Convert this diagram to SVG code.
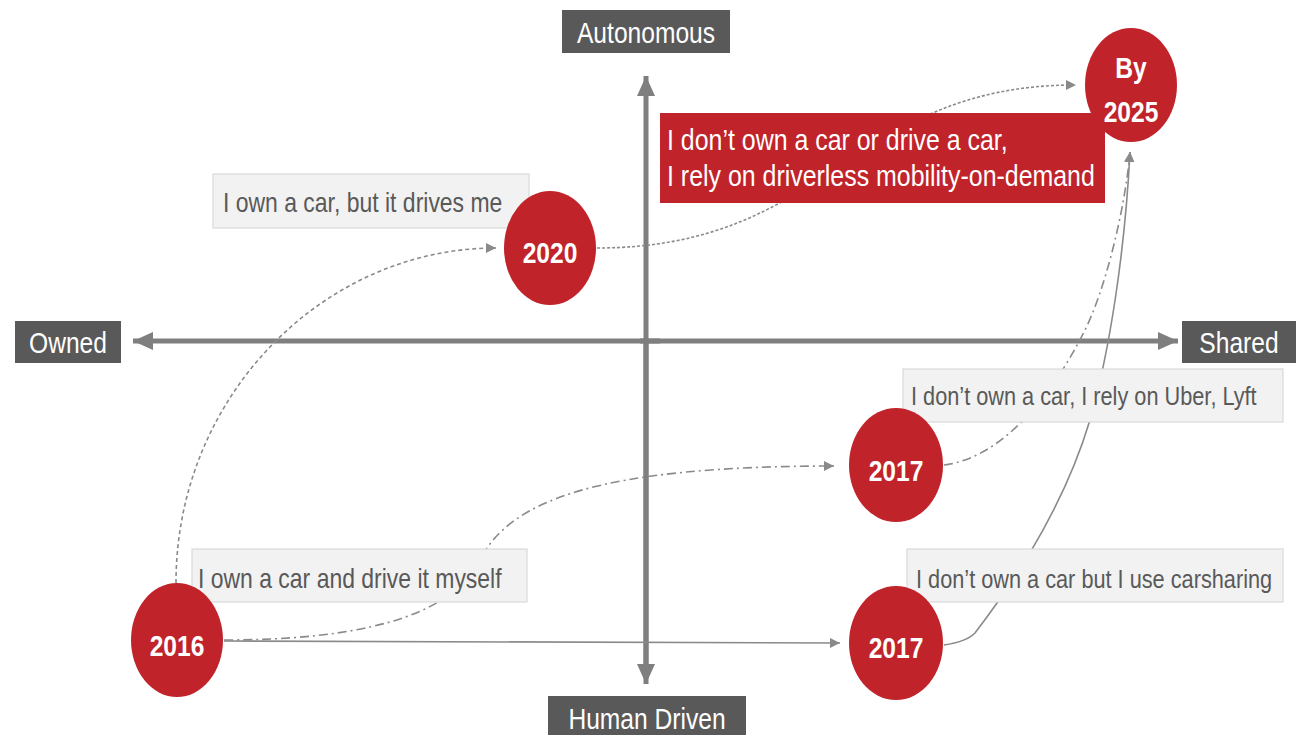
<svg xmlns="http://www.w3.org/2000/svg" width="1300" height="735" viewBox="0 0 1300 735">
<style>
.axis{stroke:#7f7f7f;stroke-width:5;fill:none}
.axlbl rect{fill:#595959}
.axlbl text{fill:#fff;font-family:"Liberation Sans",Arial,sans-serif;font-size:30px;text-anchor:middle}
.conn{stroke:#8a8a8a;stroke-width:1.6;fill:none}
.dot{stroke-dasharray:3 2}
.dash{stroke-dasharray:4 3}
.dashdot{stroke-dasharray:9 4 2 4}
.gbox rect{fill:#f2f2f2;stroke:#d9d9d9;stroke-width:1.2}
.gbox text{fill:#595959;font-family:"Liberation Sans",Arial,sans-serif;font-size:28px}
.gbox text.sm{font-size:26.5px}
.yr ellipse{fill:#c1232b}
.yr text{fill:#fff;font-family:"Liberation Sans",Arial,sans-serif;font-size:30px;font-weight:bold;text-anchor:middle}
.rbox rect{fill:#c1232b}
.rbox text{fill:#fff;font-family:"Liberation Sans",Arial,sans-serif;font-size:30.4px}
</style>
<defs>
<marker id="axh" markerUnits="userSpaceOnUse" markerWidth="24" markerHeight="22" refX="20" refY="10" orient="auto"><path d="M0,1 L20,10 L0,19 Z" fill="#7f7f7f"/></marker>
<marker id="ah" markerUnits="userSpaceOnUse" markerWidth="12" markerHeight="12" refX="10" refY="5" orient="auto"><path d="M0,0 L10,5 L0,10 Z" fill="#8a8a8a"/></marker>
</defs>
<g id="axes">
<line class="axis" x1="646" y1="670" x2="646" y2="76" marker-end="url(#axh)"/>
<line class="axis" x1="646" y1="341" x2="646" y2="684" marker-end="url(#axh)"/>
<line class="axis" x1="660" y1="341" x2="133" y2="341" marker-end="url(#axh)"/>
<line class="axis" x1="640" y1="341" x2="1178" y2="341" marker-end="url(#axh)"/>
</g>
<g id="label-autonomous" class="axlbl"><rect x="562" y="10" width="168" height="43"/><text transform="translate(646,43) scale(0.82,1)">Autonomous</text></g>
<g id="label-owned" class="axlbl"><rect x="15" y="321" width="106" height="42"/><text transform="translate(68,353) scale(0.82,1)">Owned</text></g>
<g id="label-shared" class="axlbl"><rect x="1182" y="321" width="114" height="42"/><text transform="translate(1239,353) scale(0.82,1)">Shared</text></g>
<g id="label-human" class="axlbl"><rect x="548" y="696" width="198" height="45"/><text transform="translate(647,729) scale(0.82,1)">Human Driven</text></g>
<g id="connectors">
<path class="conn dash" d="M176,583 C176,398 322,248 496,248" marker-end="url(#ah)"/>
<path class="conn dot" d="M597,248 C830,248 850,85 1076,85" marker-end="url(#ah)"/>
<path class="conn dashdot" d="M224,640 C350,640 450,620 480,560 C510,500 600,466 834,466" marker-end="url(#ah)"/>
<path class="conn" d="M224,641 L840,643" marker-end="url(#ah)"/>
<path class="conn dashdot" d="M944,465 C1000,458 1050,400 1085,330 C1105,290 1125,210 1130,152" marker-end="url(#ah)"/>
<path class="conn" d="M944,645 C958,643 968,640 975,633 C1000,600 1060,520 1090,420 C1110,350 1125,250 1130,152" marker-end="url(#ah)"/>
</g>
<g id="box-drives-me" class="gbox"><rect x="213" y="174" width="316" height="54"/><text transform="translate(223,212) scale(0.82,1)">I own a car, but it drives me</text></g>
<g id="box-myself" class="gbox"><rect x="192" y="549" width="335" height="53"/><text transform="translate(198,588) scale(0.82,1)">I own a car and drive it myself</text></g>
<g id="box-uber" class="gbox"><rect x="903" y="369" width="380" height="53"/><text class="sm" transform="translate(911,405) scale(0.82,1)">I don’t own a car, I rely on Uber, Lyft</text></g>
<g id="box-carsharing" class="gbox"><rect x="907" y="549" width="376" height="53"/><text class="sm" transform="translate(916,588) scale(0.82,1)">I don’t own a car but I use carsharing</text></g>
<g id="box-driverless" class="rbox"><rect x="660" y="113" width="445" height="90"/><text transform="translate(667,150) scale(0.82,1)">I don’t own a car or drive a car,</text><text transform="translate(667,186) scale(0.82,1)">I rely on driverless mobility-on-demand</text></g>
<g id="node-2016" class="yr"><ellipse cx="177" cy="640" rx="46" ry="57"/><text transform="translate(177,656) scale(0.82,1)">2016</text></g>
<g id="node-2020" class="yr"><ellipse cx="550" cy="248" rx="46" ry="57"/><text transform="translate(550,263) scale(0.82,1)">2020</text></g>
<g id="node-2017a" class="yr"><ellipse cx="896" cy="465" rx="47" ry="57"/><text transform="translate(896,481) scale(0.82,1)">2017</text></g>
<g id="node-2017b" class="yr"><ellipse cx="896" cy="643" rx="47" ry="57"/><text transform="translate(896,658) scale(0.82,1)">2017</text></g>
<g id="node-2025" class="yr"><ellipse cx="1131" cy="85" rx="46" ry="57"/><text transform="translate(1131,78) scale(0.82,1)">By</text><text transform="translate(1131,122) scale(0.82,1)">2025</text></g>
</svg>
